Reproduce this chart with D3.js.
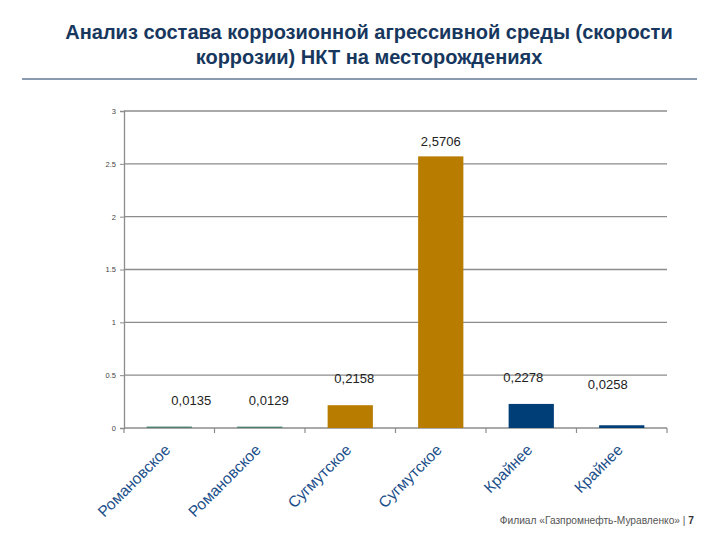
<!DOCTYPE html>
<html>
<head>
<meta charset="utf-8">
<script src="https://cdn.jsdelivr.net/npm/d3@7"></script>
<style>
  body { margin: 0; background: #fff; }
  svg { font-family: "Liberation Sans", Arial, sans-serif; }
</style>
</head>
<body>
<svg id="chart" width="720" height="540"></svg>
<script>
const categories = ["Романовское", "Романовское", "Сугмутское", "Сугмутское", "Крайнее", "Крайнее"];
const values = [0.0135, 0.0129, 0.2158, 2.5706, 0.2278, 0.0258];
const valueLabels = ["0,0135", "0,0129", "0,2158", "2,5706", "0,2278", "0,0258"];
const yTicks = [0, 0.5, 1, 1.5, 2, 2.5, 3];

// label placement as in the slide (offset from bar center / bar top)
const labelDx = [22, 9, 4, 0, -8, -14];
const labelDy = [-22, -22, -22, -10, -22, -36];
const barColors = ["#4d7f70", "#4d7f70", "#b87d00", "#b87d00", "#003e78", "#003e78"];

const svg = d3.select("#chart");
const margin = { left: 124, right: 667, top: 111, bottom: 428 };

const x = d3.scaleBand()
    .domain(d3.range(categories.length))
    .range([margin.left, margin.right])
    .paddingInner(0.5)
    .paddingOuter(0.25);

const y = d3.scaleLinear().domain([0, 3]).range([margin.bottom, margin.top]);

// title
const title = svg.append("text")
    .attr("text-anchor", "middle")
    .attr("fill", "#17375e")
    .attr("font-weight", "bold")
    .attr("font-size", 20);
title.append("tspan").attr("x", 369).attr("y", 39).text("Анализ состава коррозионной агрессивной среды (скорости");
title.append("tspan").attr("x", 369).attr("y", 64).text("коррозии) НКТ на месторождениях");

svg.append("line")
    .attr("x1", 22).attr("x2", 697)
    .attr("y1", 79).attr("y2", 79)
    .attr("stroke", "#17375e")
    .attr("stroke-width", 1.2);

// gridlines
svg.append("g")
    .selectAll("line")
    .data(yTicks.filter(d => d > 0))
    .join("line")
    .attr("x1", margin.left).attr("x2", margin.right)
    .attr("y1", d => y(d)).attr("y2", d => y(d))
    .attr("stroke", "#8c8c8c")
    .attr("stroke-width", 1.3);

// y axis
const yAxis = svg.append("g")
    .attr("transform", `translate(${margin.left},0)`)
    .call(d3.axisLeft(y).tickValues(yTicks).tickSize(4).tickPadding(4).tickFormat(d3.format("")));
yAxis.select(".domain").attr("stroke", "#8c8c8c").attr("stroke-width", 1.3);
yAxis.selectAll(".tick line").attr("stroke", "#8c8c8c");
yAxis.selectAll(".tick text").attr("fill", "#444").attr("font-size", 7.5)
    .attr("font-family", "Liberation Sans, Arial, sans-serif");

// x axis baseline and ticks between categories
svg.append("line")
    .attr("x1", margin.left).attr("x2", margin.right)
    .attr("y1", y(0)).attr("y2", y(0))
    .attr("stroke", "#8c8c8c").attr("stroke-width", 1.3);

const tickXs = d3.range(categories.length + 1).map(i => margin.left + (margin.right - margin.left) * i / categories.length);
svg.append("g")
    .selectAll("line")
    .data(tickXs)
    .join("line")
    .attr("x1", d => d).attr("x2", d => d)
    .attr("y1", y(0)).attr("y2", y(0) + 5)
    .attr("stroke", "#8c8c8c").attr("stroke-width", 1.2);

// bars
svg.append("g")
    .selectAll("rect")
    .data(values)
    .join("rect")
    .attr("x", (d, i) => x(i))
    .attr("y", d => y(d))
    .attr("width", x.bandwidth())
    .attr("height", d => y(0) - y(d))
    .attr("fill", (d, i) => barColors[i]);

// value labels
svg.append("g")
    .selectAll("text")
    .data(values)
    .join("text")
    .attr("x", (d, i) => x(i) + x.bandwidth() / 2 + labelDx[i])
    .attr("y", (d, i) => y(d) + labelDy[i])
    .attr("text-anchor", "middle")
    .attr("font-size", 13)
    .attr("fill", "#222")
    .text((d, i) => valueLabels[i]);

// category labels
svg.append("g")
    .selectAll("text")
    .data(categories)
    .join("text")
    .attr("transform", (d, i) => `translate(${x(i) + x.bandwidth() / 2 + 2},${y(0) + 23}) rotate(-45)`)
    .attr("text-anchor", "end")
    .attr("font-size", 15.5)
    .attr("fill", "#1b4f8a")
    .text(d => d);

// footer
const foot = svg.append("text")
    .attr("x", 694)
    .attr("y", 524)
    .attr("text-anchor", "end")
    .attr("font-size", 10.2)
    .attr("fill", "#555");
foot.append("tspan").text("Филиал «Газпромнефть-Муравленко»  |  ");
foot.append("tspan").attr("font-weight", "bold").attr("fill", "#333").text("7");
</script>
</body>
</html>
